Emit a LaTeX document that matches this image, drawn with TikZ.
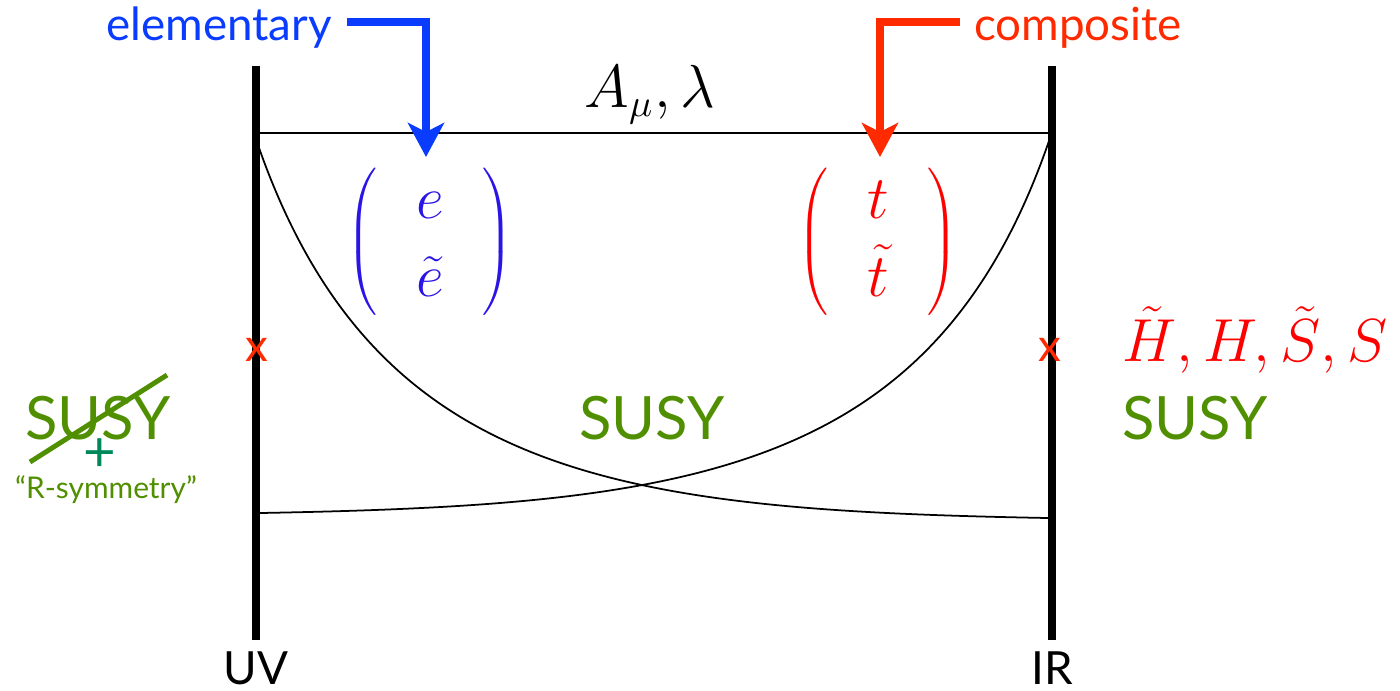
\documentclass[tikz,border=0pt]{standalone}
\usepackage{fontspec}
\setmainfont{Lato}
\usetikzlibrary{arrows.meta}
\definecolor{elblue}{HTML}{0A3CFF}
\definecolor{vecblue}{HTML}{2A14E6}
\definecolor{cpred}{HTML}{FF2A00}
\definecolor{vecred}{HTML}{FF0000}
\definecolor{susygreen}{HTML}{4F8F00}
\definecolor{plusgreen}{HTML}{00875A}

\tikzset{
  brane/.style={line width=2.1pt},
  flow/.style={line width=0.5pt},
  pointer/.style={line width=2.3pt, line join=miter,
    -{Stealth[length=0.34cm, width=0.36cm, inset=0.09cm]}},
  lbl/.style={font=\fontsize{13}{15}\selectfont, inner sep=0pt},
  susy/.style={font=\fontsize{17}{20}\selectfont, text=susygreen, inner sep=0pt},
  brk/.style={font=\fontsize{13}{15}\selectfont, text=cpred, inner sep=0pt},
  vec/.style={font=\fontsize{18}{22}\selectfont, inner sep=0pt}
}

\begin{document}
\begin{tikzpicture}[x=0.01cm, y=-0.01cm]
\useasboundingbox (0,0) rectangle (1400,690);

% Branes
\coordinate (uvtop) at (256,66);
\coordinate (uvbot) at (256,640);
\coordinate (irtop) at (1052,66);
\coordinate (irbot) at (1052,640);
\draw[brane] (uvtop) -- (uvbot);
\draw[brane] (irtop) -- (irbot);
\node[lbl] (uv) at (256,668) {UV};
\node[lbl] (ir) at (1052,668) {IR};

% Gauge multiplet, flat profile
\draw[line width=0.6pt] (256,133) -- (1052,133);
\node[font=\fontsize{16}{18}\selectfont] (gauge) at (650,95) {$A_\mu, \lambda$};

% Localised profiles
\coordinate (eL) at (258,145);
\coordinate (eR) at (1048,518);
\coordinate (tR) at (1050,138);
\coordinate (tL) at (260,513);
\draw[flow] (eL) .. controls (375,480) and (620,510) .. (eR);
\draw[flow] (tR) .. controls (935,475) and (690,505) .. (tL);

% Elementary and composite multiplets
\node[vec, text=vecblue] (evec) at (430,242)
  {$\left(\hspace{6pt}\begin{array}{c} e\\ \tilde e \end{array}\hspace{6pt}\right)$};
\node[vec, text=vecred] (tvec) at (878,242)
  {$\left(\hspace{6pt}\begin{array}{c} t\\ \tilde t \end{array}\hspace{6pt}\right)$};

\node[lbl, text=elblue] (elem) at (219,28) {elementary};
\node[lbl, text=cpred] (comp) at (1078,28) {composite};
\coordinate (etip) at (426,157);
\coordinate (ttip) at (880,157);
\draw[pointer, elblue] (347,22) -| (etip);
\draw[pointer, cpred] (960,22) -| (ttip);

% SUSY breaking points
\node[brk] (xuv) at (257,350) {x};
\node[brk] (xir) at (1050,350) {x};
\node[font=\fontsize{17.5}{20}\selectfont, text=vecred] (higgs) at (1255,340)
  {$\tilde H, H, \tilde S, S$};

% SUSY labels
\node[susy] (susyL) at (98,418) {SUSY};
\draw[susygreen, line width=1.4pt] (30,462) -- (167,375);
\node[font=\fontsize{16}{18}\selectfont, text=plusgreen, inner sep=0pt] (plus) at (100,455) {+};
\node[font=\fontsize{8.5}{10}\selectfont, text=susygreen, inner sep=0pt] (rsym) at (106,490) {``R-symmetry''};
\node[susy] (susyM) at (652,418) {SUSY};
\node[susy] (susyR) at (1195,418) {SUSY};

\end{tikzpicture}
\end{document}
